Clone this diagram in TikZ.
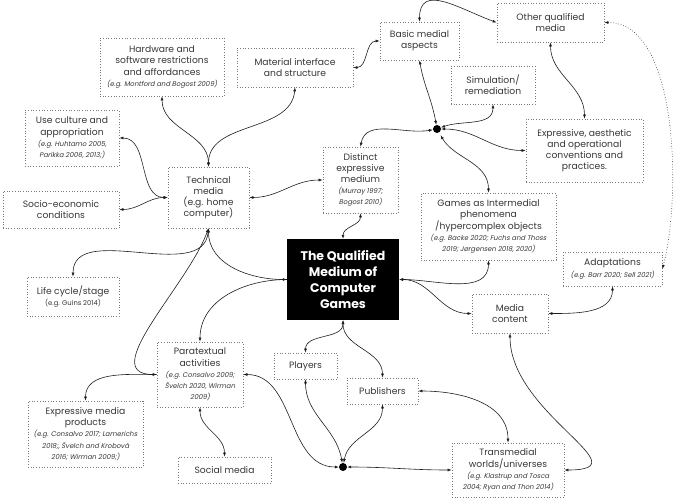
\documentclass[tikz,border=0pt]{standalone}
\usepackage{fontspec}
\setmainfont{Poppins}
\newfontfamily\citfont[FakeSlant=0.2]{Poppins}
\usepackage{tikz}
\usetikzlibrary{arrows.meta}
\definecolor{boxgray}{RGB}{120,120,120}
\definecolor{txtdark}{RGB}{55,55,55}
\definecolor{linedark}{RGB}{30,30,30}
\newcommand{\cit}[1]{{\citfont\fontsize{6.8}{8}\selectfont #1}}
\tikzset{
  topic/.style={draw=boxgray,dotted,line width=0.7pt,inner sep=2pt,align=center,text=txtdark,font=\fontsize{9.2}{11.2}\selectfont},
  core/.style={fill=black,text=white,inner sep=2pt,align=center,font=\fontsize{12.5}{16}\selectfont\bfseries},
  hub/.style={circle,fill=black,inner sep=0pt,minimum size=8pt},
  link/.style={{Latex[length=4pt,width=3pt]}-{Latex[length=4pt,width=3pt]},line width=0.6pt,draw=linedark},
  onelink/.style={-{Latex[length=4pt,width=3pt]},line width=0.6pt,draw=linedark},
  faint/.style={{Latex[length=4pt,width=3pt]}-{Latex[length=4pt,width=3pt]},line width=0.6pt,draw=linedark,dotted},
}
\begin{document}
\begin{tikzpicture}[x=1pt,y=1pt]
  \useasboundingbox (0,0) rectangle (685,-501);
  % boxes
  \node[topic,minimum width=124pt,minimum height=58pt] (hw) at (162,-67) {Hardware and\\software restrictions\\and affordances\\\cit{(e.g. Montford and Bogost 2009)}};
  \node[topic,minimum width=94pt,minimum height=56pt] (use) at (72,-138) {Use culture and\\appropriation\\\cit{(e.g. Huhtamo 2005,}\\\cit{Parikka 2006, 2013;)}};
  \node[topic,minimum width=116pt,minimum height=39pt] (mat) at (295,-67.5) {Material interface\\and structure};
  \node[topic,minimum width=79pt,minimum height=38pt] (basic) at (419.5,-41) {Basic medial\\aspects};
  \node[topic,minimum width=107pt,minimum height=39pt] (oqm) at (550.5,-22.5) {Other qualified\\media};
  \node[topic,minimum width=84pt,minimum height=38pt] (sim) at (493,-85) {Simulation/\\remediation};
  \node[topic,minimum width=117pt,minimum height=63pt] (expr) at (584.5,-150.5) {Expressive, aesthetic\\and operational\\conventions and\\practices.};
  \node[topic,minimum width=75pt,minimum height=66pt] (dist) at (360.5,-180) {Distinct\\expressive\\medium\\\cit{(Murray 1997;}\\\cit{Bogost 2010)}};
  \node[topic,minimum width=81pt,minimum height=61pt] (tech) at (208.5,-197.5) {Technical\\media\\(e.g. home\\computer)};
  \node[topic,minimum width=116pt,minimum height=37pt] (socio) at (61,-209.5) {Socio-economic\\conditions};
  \node[topic,minimum width=135pt,minimum height=67pt] (games) at (488.5,-226.5) {Games as Intermedial\\phenomena\\/hypercomplex objects\\\cit{(e.g. Backe 2020; Fuchs and Thoss}\\\cit{2019; Jørgensen 2018, 2020)}};
  \node[core,minimum width=112pt,minimum height=81pt] (core) at (343,-279.5) {The Qualified\\Medium of\\Computer\\Games};
  \node[topic,minimum width=92pt,minimum height=39pt] (life) at (73,-296.5) {Life cycle/stage\\{\fontsize{6.8}{8}\selectfont(e.g. Guins 2014)}};
  \node[topic,minimum width=99pt,minimum height=34pt] (adapt) at (612.5,-269) {Adaptations\\\cit{(e.g. Barr 2020; Sell 2021)}};
  \node[topic,minimum width=76pt,minimum height=39pt] (mc) at (510,-313.5) {Media\\content};
  \node[topic,minimum width=86pt,minimum height=65pt] (para) at (200,-374.5) {Paratextual\\activities\\\cit{(e.g. Consalvo 2009;}\\\cit{Švelch 2020, Wirman}\\\cit{2009)}};
  \node[topic,minimum width=63pt,minimum height=26pt] (play) at (305.5,-366) {Players};
  \node[topic,minimum width=71pt,minimum height=26pt] (pub) at (382.5,-391) {Publishers};
  \node[topic,minimum width=115pt,minimum height=66pt] (prod) at (85.5,-434) {Expressive media\\products\\\cit{(e.g. Consalvo 2017; Lamerichs}\\\cit{2018;, Švelch and Krobová}\\\cit{2016; Wirman 2009;)}};
  \node[topic,minimum width=93pt,minimum height=26pt] (social) at (224.5,-470) {Social media};
  \node[topic,minimum width=112pt,minimum height=54pt] (trans) at (508,-470) {Transmedial\\worlds/universes\\\cit{(e.g. Klastrup and Tosca}\\\cit{2004; Ryan and Thon 2014)}};
  \node[hub] (dott) at (437,-129) {};
  \node[hub] (dotb) at (343,-467) {};
  % connectors
  \draw[link] (tech.north) to[out=90,in=-90] (hw.south);
  \draw[link] (tech.north) to[out=90,in=-95] (mat.south);
  \draw[link] (tech.west) to[out=180,in=0] (use.east);
  \draw[link] (tech.west) to[out=180,in=0] (socio.east);
  \draw[link] (tech.south) to[out=-95,in=90] (life.north);
  \draw[link] (tech.south) to[out=-90,in=180] (core.west);
  \draw[link] (tech.south) to[out=-110,in=180] (para.west);
  \draw[onelink] (para.west) to[out=180,in=90] (prod.north);
  \draw[onelink] (core.west) to[out=180,in=90] (para.north);
  \draw[link] (para.south) to[out=-90,in=90] (social.north);
  \draw[link] (para.east) to[out=0,in=180] (dotb);
  \draw[link] (play.south) to[out=-90,in=100] (dotb);
  \draw[link] (pub.south) to[out=-90,in=80] (dotb);
  \draw[link] (dotb) to[out=0,in=180] (trans.west);
  \draw[link] (core.south) to[out=-90,in=90] (play.north);
  \draw[link] (core.south) to[out=-90,in=90] (pub.north);
  \draw[link] (pub.east) to[out=0,in=90] (trans.north);
  \draw[link] (mc.south) to[out=-90,in=0,looseness=1.4] (trans.east);
  \draw[link] (adapt.south) to[out=-90,in=0] (mc.east);
  \draw[faint] (oqm.east) to[out=0,in=75,looseness=0.75] (adapt.east);
  \draw[link] (core.east) to[out=0,in=-90] (games.south);
  \draw[link] (core.east) to[out=0,in=180] (mc.west);
  \draw[link] (dist.south) to[out=-90,in=90] (core.north);
  \draw[link] (dist.west) to[out=180,in=0] (tech.east);
  \draw[link] (dist.north) to[out=80,in=190] (dott);
  \draw[link] (mat.east) to[out=0,in=180] (basic.west);
  \draw[link] (basic.north) to[out=90,in=160,looseness=1.3] (oqm.west);
  \draw[link] (basic.south) to[out=-80,in=100] (dott);
  \draw[link] (sim.south) to[out=-90,in=20] (dott);
  \draw[link] (dott) to[out=0,in=180] (expr.west);
  \draw[link,shorten <=3pt] (dott) to[out=-60,in=90] (games.north);
  \draw[link] (oqm.south) to[out=-90,in=90] (expr.north);
\end{tikzpicture}
\end{document}
